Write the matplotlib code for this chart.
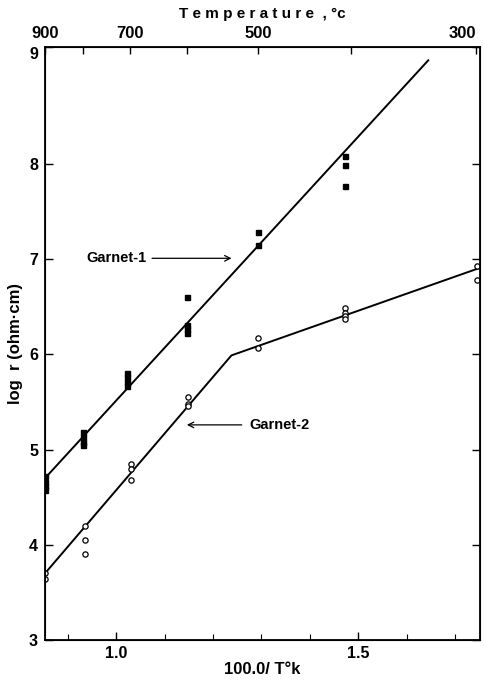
import matplotlib
matplotlib.use("Agg")
import matplotlib.pyplot as plt
from matplotlib.transforms import ScaledTranslation

plt.rcParams['font.family'] = ['Liberation Sans', 'DejaVu Sans']
plt.rcParams['font.weight'] = 'bold'

# ---  Garnet-1 measurements (filled squares) -----
g1_x = [0.8524, 0.8524, 0.8524, 0.8524,
        0.930, 0.930, 0.930, 0.930,
        1.022, 1.022, 1.022, 1.022,
        1.147, 1.147, 1.147, 1.147,
        1.292, 1.292,
        1.472, 1.472, 1.472]
g1_y = [4.72, 4.66, 4.62, 4.58,
        5.18, 5.13, 5.08, 5.05,
        5.81, 5.76, 5.71, 5.67,
        6.60, 6.31, 6.27, 6.23,
        7.29, 7.15,
        8.09, 7.99, 7.77]

# ---  Garnet-2 measurements (open circles) -----
g2_x = [0.8524, 0.8524,
        0.935, 0.935, 0.935,
        1.030, 1.030, 1.030,
        1.149, 1.149, 1.149,
        1.292, 1.292,
        1.472, 1.472, 1.472, 1.472,
        1.745, 1.745]
g2_y = [3.70, 3.64,
        4.20, 4.05, 3.90,
        4.85, 4.80, 4.68,
        5.55, 5.48, 5.46,
        6.17, 6.07,
        6.49, 6.44, 6.40, 6.37,
        6.93, 6.78]

# ---  Fitted lines -----
fit1_x = [0.8524, 1.645]
fit1_y = [4.70, 9.09]
fit2_x = [0.8524, 1.238, 1.752]
fit2_y = [3.70, 5.99, 6.91]

# --- axis ticks -----
xTicksMajor = [1.0, 1.5]
xTicksMinor = [0.9, 1.1, 1.2, 1.3, 1.4, 1.6, 1.7]
yTicks = [3, 4, 5, 6, 7, 8]
tempTicks = [900, 800, 700, 600, 500, 400, 300]
tempLabels = ['900', '', '700', '', '500', '', '300']

xLow, xHigh = 0.8524, 1.752
yLow, yHigh = 3.0, 9.23

fig = plt.figure(figsize=(4.85, 6.8), dpi=100)
ax = fig.add_axes([45 / 485, 40 / 680, 435 / 485, 593 / 680])

ax.plot(fit1_x, fit1_y, color='black', lw=1.4)
ax.plot(fit2_x, fit2_y, color='black', lw=1.4)
ax.plot(g1_x, g1_y, ls='none', marker='s', ms=3.6, color='black')
ax.plot(g2_x, g2_y, ls='none', marker='o', ms=3.8, mfc='white', mec='black', mew=0.9)

ax.set_xlim(xLow, xHigh)
ax.set_ylim(yLow, yHigh)

ax.set_xticks(xTicksMajor)
ax.set_xticklabels(['1.0', '1.5'])
ax.set_xticks(xTicksMinor, minor=True)
ax.set_yticks(yTicks + [yHigh])
ax.set_yticklabels([str(v) for v in yTicks] + ['9'])
ax.tick_params(axis='both', which='major', direction='in', length=6, width=1,
               labelsize=11.5, right=True)
ax.tick_params(axis='x', which='minor', direction='in', length=4, width=0.8)
ax.tick_params(axis='y', pad=5)
ax.tick_params(axis='x', pad=4)
for lab in ax.get_yticklabels() + ax.get_xticklabels():
    lab.set_fontweight('heavy')
# the "9" sits just under the corner, below the 900 label
nine = ax.get_yticklabels()[-1]
nine.set_transform(nine.get_transform() + ScaledTranslation(0, -4 / 72, fig.dpi_scale_trans))

for s in ax.spines.values():
    s.set_linewidth(1.3)

# top axis in degrees Celsius
top = ax.twiny()
top.set_xlim(xLow, xHigh)
top.set_xticks([1000 / (t + 273.15) for t in tempTicks])
top.set_xticklabels(tempLabels, fontweight='heavy', fontsize=12)
top.tick_params(axis='x', direction='in', length=5, width=1, pad=4)
top.get_xticklabels()[0].set_horizontalalignment('center')
top.get_xticklabels()[-1].set_horizontalalignment('right')
top.set_xlabel('T e m p e r a t u r e  , °c', fontsize=11, fontweight='bold', labelpad=6)

ax.set_xlabel('100.0/ T°k', fontsize=12, fontweight='bold', labelpad=1)
ax.set_ylabel('log  r (ohm·cm)', fontsize=12, fontweight='bold', labelpad=4)

ax.annotate('', xy=(1.244, 7.01), xytext=(1.068, 7.01),
            arrowprops=dict(arrowstyle='->', color='black', lw=0.9))
ax.text(1.062, 7.01, 'Garnet-1', ha='right', va='center', fontsize=10.5, fontweight='bold')
ax.annotate('', xy=(1.140, 5.26), xytext=(1.265, 5.26),
            arrowprops=dict(arrowstyle='->', color='black', lw=0.9))
ax.text(1.275, 5.26, 'Garnet-2', ha='left', va='center', fontsize=10.5, fontweight='bold')

fig.savefig('out.png', dpi=100)
